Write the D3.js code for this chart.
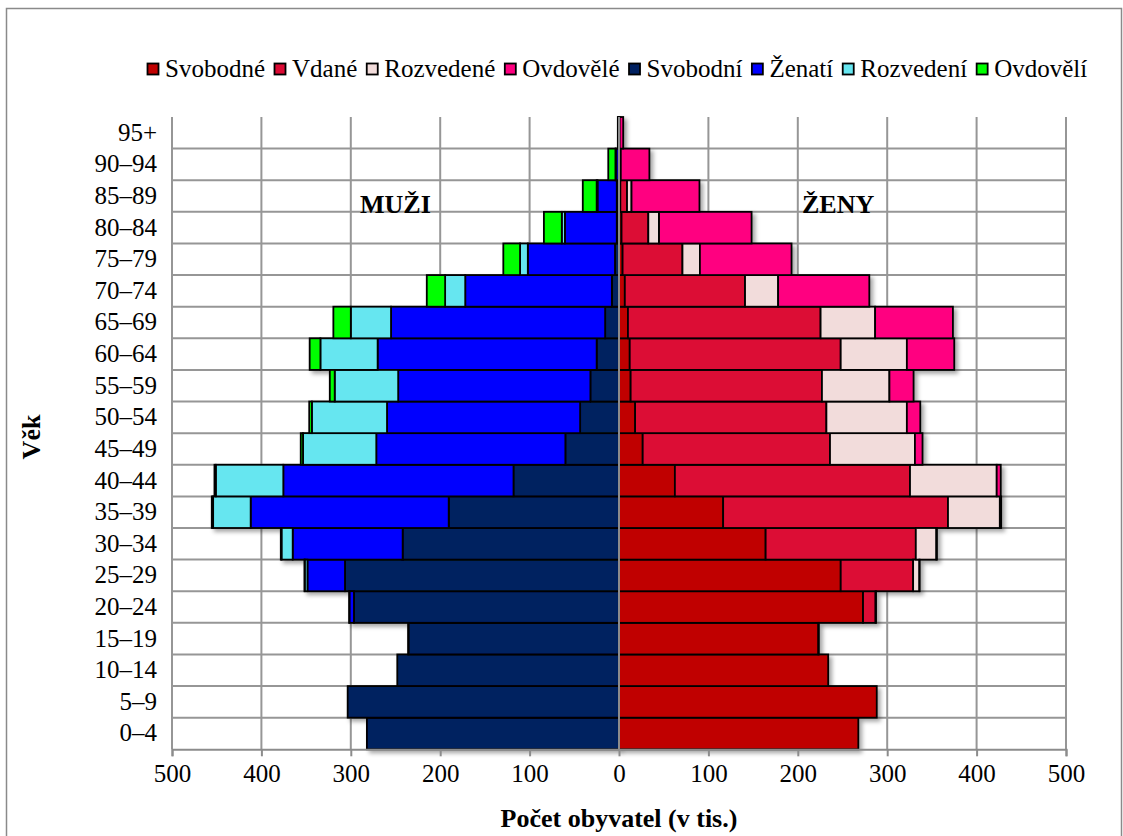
<!DOCTYPE html>
<html><head><meta charset="utf-8">
<script src="https://cdn.jsdelivr.net/npm/d3@7"></script>
<style>
html,body{margin:0;padding:0;background:#fff;}
svg text{font-family:"Liberation Serif","DejaVu Serif",serif !important;}
</style></head>
<body>
<svg id="chart" width="1123" height="836"></svg>
<script>
// Age groups, bottom (0–4) to top (95+)
const ageGroups = ["0–4","5–9","10–14","15–19","20–24","25–29","30–34","35–39","40–44","45–49","50–54","55–59","60–64","65–69","70–74","75–79","80–84","85–89","90–94","95+"];

// Men (thousands), ordered from the centre outward
const menSvobodni  = [282, 303.5, 248, 235.5, 296.5, 306.5, 242, 190.5, 118, 60, 43.5, 32, 25, 15.5, 8, 4.5, 2.5, 2.5, 0.5, 0.1];
const menZenati    = [0, 0, 0, 0.3, 5, 42, 123, 221.5, 257.5, 211.5, 216, 215, 245, 239.5, 164, 97.5, 58, 21.5, 3, 0.3];
const menRozvedeni = [0, 0, 0, 0, 0.3, 3, 12.5, 42, 75.5, 82, 84, 71, 64, 45, 22.5, 8.7, 3.5, 1, 0.5, 0.1];
const menOvdoveli  = [0, 0, 0, 0, 0, 0.3, 0.8, 1.5, 1.5, 2.5, 3, 5.5, 12, 19.5, 20.5, 18.7, 20, 15.5, 8, 0.8];

// Women (thousands), ordered from the centre outward
const womenSvobodne  = [267.7, 288.3, 234, 223, 273, 248, 164, 116.5, 62.5, 26.5, 18, 13, 12, 10, 6.5, 4, 2.8, 1.5, 0.5, 0.3];
const womenVdane     = [0, 0, 0, 0.5, 14, 81, 168, 251.5, 263, 209.5, 214, 214, 236, 215.5, 134.5, 67, 30, 7.5, 0.8, 0.2];
const womenRozvedene = [0, 0, 0, 0, 0.5, 7, 23, 58, 97, 95, 90, 75.5, 74, 61, 37, 19.5, 12, 5, 0.7, 0.2];
const womenOvdovele  = [0, 0, 0, 0, 0, 0.2, 0.6, 1.5, 4.5, 8.5, 15, 27, 53, 87, 102, 102.5, 103.5, 76, 32, 4];

const xTicks = [-500,-400,-300,-200,-100,0,100,200,300,400,500];

const womenSeries = [
  {name:"Svobodné", values:womenSvobodne, color:"#C00000"},
  {name:"Vdané", values:womenVdane, color:"#DC0A34"},
  {name:"Rozvedené", values:womenRozvedene, color:"#F2DCDB"},
  {name:"Ovdovělé", values:womenOvdovele, color:"#FF0080"}
];
const menSeries = [
  {name:"Svobodní", values:menSvobodni, color:"#002060"},
  {name:"Ženatí", values:menZenati, color:"#0000FF"},
  {name:"Rozvedení", values:menRozvedeni, color:"#66E6F0"},
  {name:"Ovdovělí", values:menOvdoveli, color:"#00FF00"}
];

const FONT = '"Liberation Serif","DejaVu Serif",serif';
const svg = d3.select("#chart");
const defs = svg.append("defs");
const f = defs.append("filter").attr("id","sh").attr("x","-20%").attr("y","-20%").attr("width","140%").attr("height","160%");
f.append("feDropShadow").attr("dx",3).attr("dy",3).attr("stdDeviation",2).attr("flood-color","#000").attr("flood-opacity",0.35);

// outer border
svg.append("rect").attr("x",6.5).attr("y",8.5).attr("width",1115).attr("height",840)
  .attr("fill","#fff").attr("stroke","#8a8a8a").attr("stroke-width",1.5);

const x = d3.scaleLinear().domain([-500,500]).range([172,1066]);
const y = d3.scaleBand().domain(ageGroups.slice().reverse()).range([117,749.3]).padding(0);
const plotTop = 117, plotBottom = 749.3;

// vertical gridlines
svg.append("g").selectAll("line").data(xTicks.filter(d=>d!==0)).join("line")
  .attr("x1",d=>x(d)).attr("x2",d=>x(d)).attr("y1",plotTop).attr("y2",plotBottom)
  .attr("stroke","#969696").attr("stroke-width",2);
// horizontal gridlines (between categories)
const bounds = ageGroups.slice().reverse().slice(1).map(a=>y(a));
svg.append("g").selectAll("line").data(bounds).join("line")
  .attr("x1",x(-500)).attr("x2",x(500)).attr("y1",d=>d).attr("y2",d=>d)
  .attr("stroke","#969696").attr("stroke-width",2);

// bars
function drawSide(series, sign){
  const g = svg.append("g").attr("filter","url(#sh)");
  const cum = ageGroups.map(()=>0);
  series.forEach(s=>{
    const rows = ageGroups.map((a,i)=>{
      const start = cum[i], end = cum[i]+s.values[i];
      cum[i] = end;
      return {a, start, end, v:s.values[i]};
    }).filter(r=>r.v>0);
    g.append("g").selectAll("rect").data(rows).join("rect")
      .attr("x",r=>Math.min(x(sign*r.start),x(sign*r.end)))
      .attr("width",r=>Math.abs(x(sign*r.end)-x(sign*r.start)))
      .attr("y",r=>y(r.a)).attr("height",y.bandwidth())
      .attr("fill",s.color).attr("stroke","#000").attr("stroke-width",1.8);
  });
}
drawSide(menSeries,-1);
drawSide(womenSeries,1);

// centre axis line
svg.append("line").attr("x1",x(0)).attr("x2",x(0)).attr("y1",plotTop).attr("y2",plotBottom)
  .attr("stroke","#8c8c8c").attr("stroke-width",2);

// bottom axis
const xAxis = d3.axisBottom(x).tickValues(xTicks).tickFormat(d=>Math.abs(d)).tickSize(7).tickPadding(8);
const ax = svg.append("g").attr("transform",`translate(0,${plotBottom})`).call(xAxis).attr("font-family",FONT);
ax.select(".domain").attr("stroke","#8c8c8c").attr("stroke-width",2);
ax.selectAll(".tick line").attr("stroke","#8c8c8c").attr("stroke-width",2);
ax.selectAll(".tick text").attr("font-size",25).style("font-family",FONT).attr("fill","#000");

// y labels
const yAxis = d3.axisLeft(y).tickSize(0).tickPadding(15);
const ay = svg.append("g").attr("transform",`translate(${x(-500)},0)`).call(yAxis).attr("font-family",FONT);
ay.select(".domain").remove();
ay.selectAll(".tick text").attr("font-size",25).style("font-family",FONT).attr("fill","#000");

// annotations
svg.append("text").attr("x",360).attr("y",213).attr("font-size",26).attr("font-weight","bold").style("font-family",FONT).text("MUŽI");
svg.append("text").attr("x",802).attr("y",213).attr("font-size",26).attr("font-weight","bold").style("font-family",FONT).text("ŽENY");

// axis titles
svg.append("text").attr("x",x(0)).attr("y",827).attr("text-anchor","middle").style("font-family",FONT)
  .attr("font-size",26).attr("font-weight","bold").text("Počet obyvatel (v tis.)");
svg.append("text").attr("transform","translate(40,437) rotate(-90)").attr("text-anchor","middle").style("font-family",FONT)
  .attr("font-size",26).attr("font-weight","bold").text("Věk");

// legend
const legendItems = womenSeries.concat(menSeries);
let lx = 147;
const lg = svg.append("g");
legendItems.forEach(it=>{
  lg.append("rect").attr("x",lx+0.5).attr("y",63.5).attr("width",11).attr("height",11)
    .attr("fill",it.color).attr("stroke","#000").attr("stroke-width",1.8);
  const t = lg.append("text").attr("x",lx+18).attr("y",77).attr("font-size",25).style("font-family",FONT).text(it.name);
  lx = lx + 18 + t.node().getComputedTextLength() + 9;
});
</script>
</body></html>
